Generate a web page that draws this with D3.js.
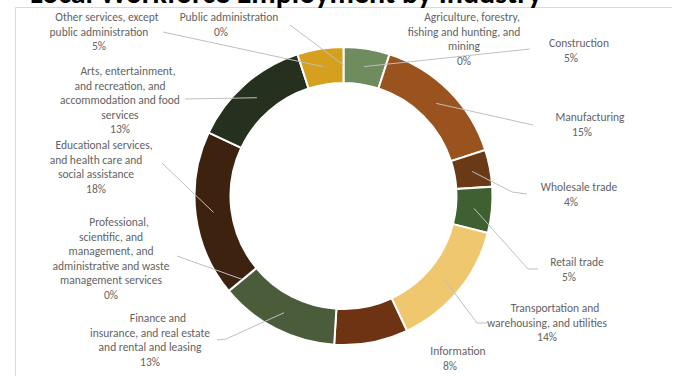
<!DOCTYPE html>
<html>
<head>
<meta charset="utf-8">
<script src="https://cdn.jsdelivr.net/npm/d3@7"></script>
<style>
  html, body { margin: 0; padding: 0; background: #fff; }
  svg { display: block; }
  text { font-family: Carlito, Calibri, Lato, "Open Sans", sans-serif; }
</style>
</head>
<body>
<svg id="chart" width="679" height="378"></svg>
<script>
// Share of workforce employment by industry (percent), clockwise from 12 o'clock
const industries = [
  "Agriculture, forestry,\nfishing and hunting, and\nmining",
  "Construction",
  "Manufacturing",
  "Wholesale trade",
  "Retail trade",
  "Transportation and\nwarehousing, and utilities",
  "Information",
  "Finance and\ninsurance, and real estate\nand rental and leasing",
  "Professional,\nscientific, and\nmanagement, and\nadministrative and waste\nmanagement services",
  "Educational services,\nand health care and\nsocial assistance",
  "Arts, entertainment,\nand recreation, and\naccommodation and food\nservices",
  "Other services, except\npublic administration",
  "Public administration"
];
const shares = [0, 5, 15, 4, 5, 14, 8, 13, 0, 18, 13, 5, 0];
const sliceColors = [
  "#6f8c5f", "#6f8c5f", "#9a531f", "#6a3a17", "#3f6030", "#efc76e",
  "#6e3312", "#4a5c3a", "#3e2210", "#3e2210", "#25301e", "#d4a01e", "#d4a01e"
];
const titleText = "Local Workforce Employment by Industry";

// Label placement: centre x, first line centre y, and leader start points (null = no leader)
const labelLayout = [
  { x: 464, y: 17,  lead: null },
  { x: 571, y: 43,  lead: [[530, 49]] },
  { x: 582, y: 117, lead: [[533, 125]] },
  { x: 571, y: 187, lead: [[527, 194], [512, 192]] },
  { x: 569, y: 262, lead: [[538, 269], [528, 269]] },
  { x: 547, y: 308, lead: [[487, 323], [477, 323]] },
  { x: 450, y: 351, lead: null },
  { x: 150, y: 318, lead: [[217, 340], [226, 339]] },
  { x: 111, y: 222, lead: [[177, 256]] },
  { x: 96,  y: 145, lead: [[162, 163]] },
  { x: 120, y: 71,  lead: [[185, 99]] },
  { x: 99,  y: 17,  lead: [[163, 32]] },
  { x: 221, y: 17,  lead: [[290, 25]] }
];

const svg = d3.select("#chart");
const cx = 343.5, cy = 196;
const rOuter = 149, rInner = 113;
const lineStep = 14.5;
const firstLineShift = 8;

// Chart area frame (top and left edges)
svg.append("path")
  .attr("d", `M15.5,376 L15.5,7.5 L672,7.5`)
  .attr("fill", "none")
  .attr("stroke", "#d9d9d9")
  .attr("stroke-width", 1);

// Title, mostly above the visible canvas
svg.append("text")
  .attr("x", 30)
  .attr("y", 3)
  .attr("text-anchor", "start")
  .attr("font-size", 30)
  .attr("font-weight", 700)
  .attr("fill", "#000")
  .text(titleText);

const data = industries.map((name, i) => ({ name, value: shares[i], color: sliceColors[i], layout: labelLayout[i] }));

const pie = d3.pie().sort(null).value(d => d.value);
const arcs = pie(data);
const arc = d3.arc().innerRadius(rInner).outerRadius(rOuter);

const g = svg.append("g").attr("transform", `translate(${cx},${cy})`);

g.selectAll("path.slice")
  .data(arcs.filter(a => a.data.value > 0))
  .join("path")
  .attr("class", "slice")
  .attr("d", arc)
  .attr("fill", d => d.data.color)
  .attr("stroke", "#fff")
  .attr("stroke-width", 2)
  .attr("stroke-linejoin", "miter");

// Leader lines from labels to slice centroids
const line = d3.line();
arcs.forEach(a => {
  const L = a.data.layout;
  if (!L.lead) return;
  const c = arc.centroid(a);
  const pts = L.lead.concat([[c[0] + cx, c[1] + cy]]);
  svg.append("path")
    .attr("d", line(pts))
    .attr("fill", "none")
    .attr("stroke", "#bfbfbf")
    .attr("stroke-width", 1);
});

// Data labels: category name and percent
arcs.forEach(a => {
  const L = a.data.layout;
  const lines = a.data.name.split("\n").concat([d3.format(".0f")(a.data.value) + "%"]);
  const t = svg.append("text")
    .attr("text-anchor", "middle")
    .attr("font-size", 11.5)
    .attr("fill", "#636363");
  lines.forEach((s, k) => {
    t.append("tspan")
      .attr("x", L.x + (k === 0 && lines.length > 1 ? firstLineShift : 0))
      .attr("y", L.y + k * lineStep)
      .attr("dy", "0.35em")
      .text(s);
  });
});
</script>
</body>
</html>
